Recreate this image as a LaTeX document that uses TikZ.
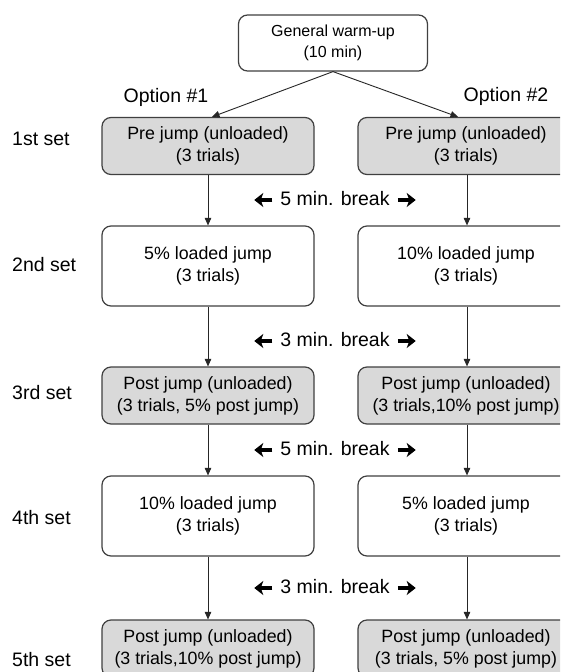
\documentclass[tikz,border=0pt]{standalone}
\usepackage{fontspec}
\setmainfont{Liberation Sans}
\usetikzlibrary{arrows.meta}
\begin{document}
\begin{tikzpicture}[x=1pt,y=-1pt,
  box/.style={draw=black!75, line width=1.2pt, rounded corners=9pt, align=center, inner sep=0pt,
    font=\fontsize{17.8}{22}\selectfont},
  graybox/.style={box, fill=gray!30, minimum height=57pt},
  whitebox/.style={box, fill=white, minimum height=80pt},
  lcol/.style={minimum width=212pt},
  rcol/.style={minimum width=216pt},
  lab/.style={font=\fontsize{19.5}{23}\selectfont, inner sep=0pt},
  setlab/.style={lab, anchor=west},
  arr/.style={draw=black!85, line width=0.9pt, -{Triangle[length=7.5pt,width=6.5pt]}},
  brk/.style={draw=black, line width=3.6pt, -{Stealth[length=9pt,width=14pt,inset=2.5pt]}}
]
\useasboundingbox (0,0) rectangle (560,672);
\clip (0,0) rectangle (560,672);
\fill[white] (0,0) rectangle (560,672);

\node[box, fill=white, minimum width=189pt, minimum height=56pt, font=\fontsize{16}{21}\selectfont] (warm) at (333,43) {General warm-up\\(10 min)};

\node[lab] (opt1) at (166,97) {Option \#1};
\node[lab] (opt2) at (506,96) {Option \#2};

\node[setlab] (s1) at (12,139) {1st set};
\node[setlab] (s2) at (12,265) {2nd set};
\node[setlab] (s3) at (12,393) {3rd set};
\node[setlab] (s4) at (12,518) {4th set};
\node[setlab] (s5) at (12,660) {5th set};

\node[graybox, lcol] (L1) at (208,146) {Pre jump (unloaded)\\(3 trials)};
\node[graybox, rcol] (R1) at (466,146) {Pre jump (unloaded)\\(3 trials)};
\node[whitebox, lcol] (L2) at (208,266) {5\% loaded jump\\(3 trials)};
\node[whitebox, rcol] (R2) at (466,266) {10\% loaded jump\\(3 trials)};
\node[graybox, lcol] (L3) at (208,395.5) {Post jump (unloaded)\\(3 trials, 5\% post jump)};
\node[graybox, rcol] (R3) at (466,395.5) {Post jump (unloaded)\\(3 trials,10\% post jump)};
\node[whitebox, lcol] (L4) at (208,516) {10\% loaded jump\\(3 trials)};
\node[whitebox, rcol] (R4) at (466,516) {5\% loaded jump\\(3 trials)};
\node[graybox, lcol] (L5) at (208,648.5) {Post jump (unloaded)\\(3 trials,10\% post jump)};
\node[graybox, rcol] (R5) at (466,648.5) {Post jump (unloaded)\\(3 trials, 5\% post jump)};

\node[lab] (b1) at (335,199) {5 min. break};
\node[lab] (b2) at (335,340) {3 min. break};
\node[lab] (b3) at (335,449) {5 min. break};
\node[lab] (b4) at (335,587) {3 min. break};

\foreach \b in {b1,b2,b3,b4}{
  \draw[brk] ([xshift=-8pt,yshift=-1pt]\b.west) -- ([xshift=-26pt,yshift=-1pt]\b.west);
  \draw[brk] ([xshift=8pt,yshift=-1pt]\b.east) -- ([xshift=26pt,yshift=-1pt]\b.east);
}

\draw[arr] (warm.south) -- ([xshift=4pt]L1.north);
\draw[arr] (warm.south) -- ([xshift=-8pt]R1.north);

\draw[arr] (L1.south) -- (L2.north);
\draw[arr] (L2.south) -- (L3.north);
\draw[arr] (L3.south) -- (L4.north);
\draw[arr] (L4.south) -- (L5.north);
\draw[arr] ([xshift=1pt]R1.south) -- ([xshift=1pt]R2.north);
\draw[arr] ([xshift=1pt]R2.south) -- ([xshift=1pt]R3.north);
\draw[arr] ([xshift=1pt]R3.south) -- ([xshift=1pt]R4.north);
\draw[arr] ([xshift=1pt]R4.south) -- ([xshift=1pt]R5.north);
\end{tikzpicture}
\end{document}
